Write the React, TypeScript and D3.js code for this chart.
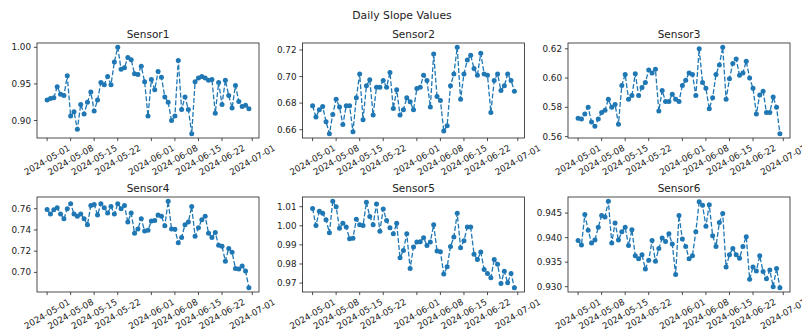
import React from 'react';
import * as d3 from 'd3';

const dates = d3.timeDay.range(new Date(2024, 4, 1), new Date(2024, 6, 1));

const sensor1 = [0.928, 0.930, 0.931, 0.946, 0.936, 0.934, 0.961, 0.906, 0.912, 0.888, 0.922, 0.909, 0.925, 0.939, 0.913, 0.928,
  0.952, 0.949, 0.960, 0.949, 0.980, 1.000, 0.970, 0.972, 0.986, 0.983, 0.964, 0.963, 0.974, 0.953, 0.906, 0.956, 0.942,
  0.967, 0.959, 0.932, 0.925, 0.900, 0.906, 0.982, 0.915, 0.932, 0.915, 0.882, 0.953, 0.958, 0.960, 0.958, 0.955, 0.956,
  0.910, 0.952, 0.922, 0.955, 0.934, 0.917, 0.948, 0.926, 0.919, 0.921, 0.916];
const sensor2 = [0.678, 0.6695, 0.675, 0.6775, 0.666, 0.657, 0.6715, 0.683, 0.677, 0.664, 0.678, 0.678, 0.6585, 0.684, 0.702,
  0.6675, 0.693, 0.6975, 0.671, 0.692, 0.692, 0.697, 0.692, 0.703, 0.676, 0.690, 0.671, 0.675, 0.684, 0.681, 0.675, 0.691,
  0.692, 0.701, 0.697, 0.677, 0.717, 0.685, 0.682, 0.659, 0.663, 0.693, 0.702, 0.722, 0.683, 0.702, 0.7125, 0.716, 0.706,
  0.701, 0.7175, 0.702, 0.701, 0.673, 0.697, 0.702, 0.6895, 0.693, 0.702, 0.697, 0.689];
const sensor3 = [0.5725, 0.572, 0.5755, 0.580, 0.570, 0.567, 0.572, 0.5765, 0.578, 0.5855, 0.580, 0.582, 0.5685, 0.595, 0.6025,
  0.5855, 0.588, 0.603, 0.588, 0.5935, 0.597, 0.6055, 0.6035, 0.606, 0.5775, 0.5915, 0.584, 0.584, 0.589, 0.5855, 0.584,
  0.595, 0.5985, 0.6035, 0.6025, 0.588, 0.620, 0.597, 0.593, 0.579, 0.5865, 0.6025, 0.609, 0.621, 0.5855, 0.5995, 0.610,
  0.613, 0.602, 0.6035, 0.6115, 0.600, 0.593, 0.5755, 0.5885, 0.591, 0.5765, 0.5765, 0.587, 0.580, 0.562];
const sensor4 = [0.7594, 0.755, 0.759, 0.761, 0.755, 0.7506, 0.760, 0.7647, 0.755, 0.753, 0.755, 0.7506, 0.745, 0.763, 0.764,
  0.754, 0.7647, 0.761, 0.756, 0.762, 0.755, 0.7647, 0.760, 0.763, 0.7475, 0.756, 0.737, 0.741, 0.7506, 0.739, 0.7397,
  0.7484, 0.749, 0.754, 0.753, 0.744, 0.767, 0.741, 0.7406, 0.728, 0.733, 0.745, 0.7475, 0.762, 0.734, 0.742, 0.7497,
  0.753, 0.737, 0.733, 0.7375, 0.7256, 0.7247, 0.7106, 0.7225, 0.719, 0.7037, 0.7031, 0.706, 0.7013, 0.6856];
const sensor5 = [1.0091, 1.0001, 1.0076, 1.0065, 1.0032, 0.9963, 1.0128, 1.010, 0.9987, 1.0013, 0.9993, 0.9932, 0.9935, 1.0034,
  1.0005, 1.0001, 1.0123, 1.0048, 1.0006, 1.0114, 0.9972, 1.0088, 1.0027, 0.999, 0.9958, 1.0013, 0.9832, 0.9871, 0.9958,
  0.9776, 0.9889, 0.9915, 0.9916, 0.9937, 0.9897, 0.9915, 1.0006, 0.9868, 0.9864, 0.9747, 0.9785, 0.9892, 0.9941, 1.0065,
  0.9885, 0.9922, 0.9993, 0.9993, 0.9851, 0.9823, 0.9863, 0.9771, 0.975, 0.9728, 0.9823, 0.9799, 0.9698, 0.9762, 0.9702,
  0.975, 0.9676];
const sensor6 = [0.9394, 0.9385, 0.9447, 0.9415, 0.9389, 0.9395, 0.9421, 0.9445, 0.9442, 0.9474, 0.9389, 0.943, 0.9395, 0.9412,
  0.9421, 0.9384, 0.9416, 0.9363, 0.9357, 0.9365, 0.9336, 0.9354, 0.9394, 0.9352, 0.9378, 0.9399, 0.9392, 0.9408, 0.9387,
  0.9325, 0.9445, 0.9397, 0.9382, 0.9357, 0.9363, 0.9412, 0.9473, 0.9466, 0.9423, 0.9467, 0.9404, 0.9382, 0.9431, 0.9449,
  0.934, 0.9365, 0.9378, 0.9365, 0.9358, 0.9382, 0.9402, 0.9315, 0.934, 0.9332, 0.9363, 0.9331, 0.9316, 0.9334, 0.93,
  0.9337, 0.9298];

const sensorNames = ['Sensor1', 'Sensor2', 'Sensor3', 'Sensor4', 'Sensor5', 'Sensor6'];
const sensorValues = [sensor1, sensor2, sensor3, sensor4, sensor5, sensor6];
const yTicks = [
  [0.90, 0.95, 1.00],
  [0.66, 0.68, 0.70, 0.72],
  [0.56, 0.58, 0.60, 0.62],
  [0.70, 0.72, 0.74, 0.76],
  [0.97, 0.98, 0.99, 1.00, 1.01],
  [0.930, 0.935, 0.940, 0.945],
];
const yDecimals = [2, 2, 2, 2, 2, 3];
const xTickLabels = ['2024-05-01', '2024-05-08', '2024-05-15', '2024-05-22', '2024-06-01', '2024-06-08', '2024-06-15', '2024-06-22', '2024-07-01'];

const W = 802;
const H = 335;
const colLeft = [37, 302.5, 568];
const rowTop = [43, 197];
const pw = 222;
const ph = 95;
const blue = '#1f77b4';
const font = 'DejaVu Sans, sans-serif';
const parseDay = d3.timeParse('%Y-%m-%d');

const Panel = ({ idx }: { idx: number }) => {
  const left = colLeft[idx % 3];
  const top = rowTop[Math.floor(idx / 3)];
  const values = sensorValues[idx];
  const pts = values.map((v, i) => ({ d: dates[i], v }));

  // matplotlib-style 5% margins
  const t0 = dates[0].getTime();
  const t1 = dates[dates.length - 1].getTime();
  const tp = (t1 - t0) * 0.05;
  const x = d3.scaleTime().domain([new Date(t0 - tp), new Date(t1 + tp)]).range([left, left + pw]);
  const [lo, hi] = d3.extent(values) as [number, number];
  const yp = (hi - lo) * 0.05;
  const y = d3.scaleLinear().domain([lo - yp, hi + yp]).range([top + ph, top]);

  const line = d3.line<{ d: Date; v: number }>().x(p => x(p.d)).y(p => y(p.v));
  const fmt = d3.format(`.${yDecimals[idx]}f`);
  const bottom = top + ph;
  const ly = bottom + 22;

  return (
    <g>
      <text x={left + pw / 2} y={top - 5.5} textAnchor="middle" fontSize={10.5} fill="#222">{sensorNames[idx]}</text>
      <path d={line(pts) || ''} fill="none" stroke={blue} strokeWidth={1.3} strokeDasharray="4.9,2.1" />
      {pts.map((p, i) => (
        <circle key={i} cx={x(p.d)} cy={y(p.v)} r={2.5} fill={blue} />
      ))}
      <rect x={left} y={top} width={pw} height={ph} fill="none" stroke="#222" strokeWidth={0.8} />
      {yTicks[idx].map(t => (
        <g key={t}>
          <line x1={left - 3.1} x2={left} y1={y(t)} y2={y(t)} stroke="#222" strokeWidth={0.8} />
          <text x={left - 6} y={y(t)} dy="0.35em" textAnchor="end" fontSize={8.8} fill="#222">{fmt(t)}</text>
        </g>
      ))}
      {xTickLabels.map(lbl => {
        const tx = x(parseDay(lbl) as Date);
        return (
          <g key={lbl}>
            <line x1={tx} x2={tx} y1={bottom} y2={bottom + 3.1} stroke="#222" strokeWidth={0.8} />
            <text x={tx} y={ly} textAnchor="middle" dominantBaseline="central" fontSize={8.8} fill="#222"
              transform={`rotate(-30 ${tx} ${ly})`}>{lbl}</text>
          </g>
        );
      })}
    </g>
  );
};

export default function App() {
  return (
    <svg width={W} height={H} style={{ position: 'absolute', left: 0, top: 0, background: '#fff' }} fontFamily={font}>
      <text x={402} y={19} textAnchor="middle" fontSize={10.8} fill="#222">Daily Slope Values</text>
      {sensorNames.map((_, i) => <Panel key={i} idx={i} />)}
    </svg>
  );
}
